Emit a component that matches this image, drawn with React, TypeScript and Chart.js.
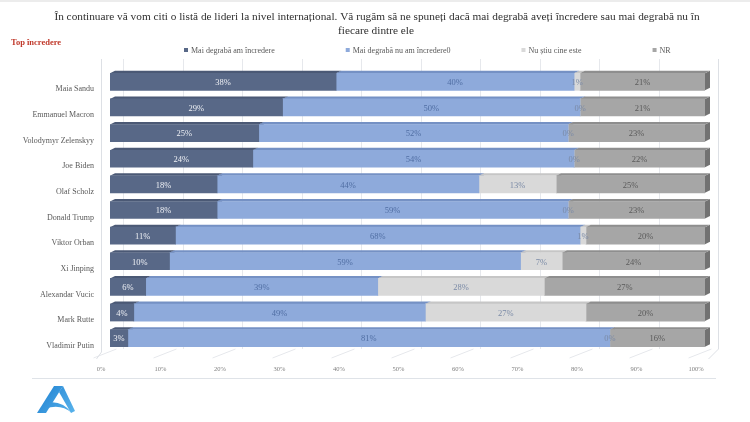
import { useEffect, useRef } from 'react';
import { Chart, registerables } from 'chart.js';

Chart.register(...registerables);

const categories = [
  'Maia Sandu',
  'Emmanuel Macron',
  'Volodymyr Zelenskyy',
  'Joe Biden',
  'Olaf Scholz',
  'Donald Trump',
  'Viktor Orban',
  'Xi Jinping',
  'Alexandar Vucic',
  'Mark Rutte',
  'Vladimir Putin',
];
const trust = [38, 29, 25, 24, 18, 18, 11, 10, 6, 4, 3];
const distrust = [40, 50, 52, 54, 44, 59, 68, 59, 39, 49, 81];
const unknown = [1, 0, 0, 0, 13, 0, 1, 7, 28, 27, 0];
const noAnswer = [21, 21, 23, 22, 25, 23, 20, 24, 27, 20, 16];
const seriesLabels = [
  'Mai degrabă am încredere',
  'Mai degrabă nu am încredere0',
  'Nu știu cine este',
  'NR',
];
const titleLines = [
  'În continuare vă vom citi o listă de lideri la nivel internațional. Vă rugăm să ne spuneți dacă mai degrabă aveți încredere sau mai degrabă nu în',
  'fiecare dintre ele',
];
const subtitle = 'Top încredere';

const FRONT = ['#586887', '#8eaadb', '#d9d9d9', '#a6a6a6'];
const TOP = ['#4b5975', '#7591c4', '#c6c6c6', '#8e8e8e'];
const SIDE = ['#44506a', '#6a84b5', '#b5b5b5', '#727272'];
const LABEL = ['#eef0f5', '#506ea3', '#7a8aa6', '#5a5a5a'];
const SERIF = '"Liberation Serif", "DejaVu Serif", serif';

const DX = 5;
const DY = 2.5;

const threeD = {
  id: 'threeD',
  beforeDatasetsDraw(chart: any) {
    const { ctx, chartArea, scales } = chart;
    const x = scales.x;
    ctx.save();
    ctx.lineWidth = 1;
    ctx.strokeStyle = '#e6e8ec';
    for (let v = 0; v <= 100; v += 10) {
      const px = Math.round(x.getPixelForValue(v)) + 0.5;
      ctx.beginPath();
      ctx.moveTo(px + 13, chartArea.top - 10);
      ctx.lineTo(px + 13, chartArea.bottom - 2);
      ctx.stroke();
      ctx.beginPath();
      ctx.moveTo(px - 17, chartArea.bottom + 7);
      ctx.lineTo(px + 6, chartArea.bottom - 2);
      ctx.stroke();
    }
    ctx.strokeStyle = '#dde0e5';
    const l = x.getPixelForValue(0) - 8.5;
    ctx.beginPath();
    ctx.moveTo(l, chartArea.top - 10);
    ctx.lineTo(l, chartArea.bottom + 1);
    ctx.lineTo(l - 5, chartArea.bottom + 8);
    ctx.stroke();
    const r = x.getPixelForValue(100) + 13.5;
    ctx.beginPath();
    ctx.moveTo(r, chartArea.top - 10);
    ctx.lineTo(r, chartArea.bottom - 2);
    ctx.lineTo(r - 10, chartArea.bottom + 8);
    ctx.stroke();

    const n = chart.data.datasets.length;
    for (let d = 0; d < n; d++) {
      const meta = chart.getDatasetMeta(d);
      meta.data.forEach((el: any) => {
        const p = el.getProps(['x', 'y', 'base', 'height'], true);
        const x0 = Math.min(p.base, p.x);
        const x1 = Math.max(p.base, p.x);
        const yt = p.y - p.height / 2;
        const yb = p.y + p.height / 2;
        ctx.fillStyle = SIDE[d];
        ctx.beginPath();
        ctx.moveTo(x1, yt);
        ctx.lineTo(x1 + DX, yt - DY);
        ctx.lineTo(x1 + DX, yb - DY);
        ctx.lineTo(x1, yb);
        ctx.closePath();
        ctx.fill();
        ctx.fillStyle = TOP[d];
        ctx.beginPath();
        ctx.moveTo(x0, yt);
        ctx.lineTo(x0 + DX, yt - DY);
        ctx.lineTo(x1 + DX, yt - DY);
        ctx.lineTo(x1, yt);
        ctx.closePath();
        ctx.fill();
      });
    }
    ctx.restore();
  },
  afterDatasetsDraw(chart: any) {
    const { ctx } = chart;
    ctx.save();
    ctx.font = `8.5px ${SERIF}`;
    ctx.textAlign = 'center';
    ctx.textBaseline = 'middle';
    chart.data.datasets.forEach((ds: any, d: number) => {
      const meta = chart.getDatasetMeta(d);
      meta.data.forEach((el: any, i: number) => {
        const p = el.getProps(['x', 'y', 'base'], true);
        ctx.fillStyle = LABEL[d];
        ctx.fillText(`${ds.data[i]}%`, (p.x + p.base) / 2, p.y + 1);
      });
    });
    ctx.restore();
  },
  afterDraw(chart: any) {
    const { ctx } = chart;
    ctx.save();
    ctx.fillStyle = '#2f2f2f';
    ctx.font = `11.3px ${SERIF}`;
    ctx.textAlign = 'center';
    ctx.textBaseline = 'middle';
    ctx.fillText(titleLines[0], 377, 17);
    ctx.fillText(titleLines[1], 376, 31);
    ctx.fillStyle = '#c0392b';
    ctx.font = `bold 8.5px ${SERIF}`;
    ctx.textAlign = 'left';
    ctx.fillText(subtitle, 11, 43);
    ctx.font = `8px ${SERIF}`;
    let lx = 184;
    chart.data.datasets.forEach((ds: any, d: number) => {
      ctx.fillStyle = FRONT[d];
      ctx.fillRect(lx, 48, 4, 4);
      ctx.fillStyle = '#595959';
      ctx.fillText(ds.label, lx + 7, 50.5);
      lx += 7 + ctx.measureText(ds.label).width + 71;
    });
    ctx.strokeStyle = '#dfe3e8';
    ctx.lineWidth = 1;
    ctx.beginPath();
    ctx.moveTo(32, 378.5);
    ctx.lineTo(716, 378.5);
    ctx.stroke();
    ctx.fillStyle = '#ececec';
    ctx.fillRect(0, 0, 750, 2);
    const g = ctx.createLinearGradient(37, 385, 75, 414);
    g.addColorStop(0, '#1d7fd0');
    g.addColorStop(1, '#5ab4ec');
    ctx.fillStyle = g;
    ctx.beginPath();
    ctx.moveTo(54, 386);
    ctx.lineTo(63, 386);
    ctx.lineTo(46, 413);
    ctx.lineTo(37, 413);
    ctx.closePath();
    ctx.fill();
    ctx.beginPath();
    ctx.moveTo(63, 386);
    ctx.lineTo(75, 411);
    ctx.lineTo(71, 413);
    ctx.lineTo(59, 392);
    ctx.closePath();
    ctx.fill();
    ctx.beginPath();
    ctx.moveTo(43, 404);
    ctx.quadraticCurveTo(60, 398, 72, 413);
    ctx.quadraticCurveTo(60, 403, 45, 409);
    ctx.closePath();
    ctx.fill();
    ctx.restore();
  },
};

export default function App() {
  const ref = useRef<HTMLCanvasElement | null>(null);
  useEffect(() => {
    if (!ref.current) return;
    const series = [trust, distrust, unknown, noAnswer];
    const chart = new Chart(ref.current, {
      type: 'bar',
      data: {
        labels: categories,
        datasets: series.map((s, i) => ({
          label: seriesLabels[i],
          data: s,
          backgroundColor: FRONT[i],
          borderWidth: 0,
          barThickness: 17,
        })),
      },
      options: {
        indexAxis: 'y',
        responsive: false,
        animation: false,
        devicePixelRatio: 1,
        layout: { padding: { left: 0, right: 45, top: 69, bottom: 0 } },
        plugins: {
          legend: { display: false },
          title: { display: false },
          tooltip: { enabled: false },
        },
        scales: {
          x: {
            stacked: true,
            min: 0,
            max: 100,
            ticks: {
              stepSize: 10,
              callback: (v: any) => `${v}%`,
              font: { family: SERIF, size: 6.5 },
              color: '#7f7f7f',
              padding: 14,
              labelOffset: -9,
            },
            grid: { display: false, drawTicks: false },
            border: { display: false },
            afterFit: (s: any) => {
              s.height = 71;
            },
          },
          y: {
            stacked: true,
            ticks: {
              font: { family: SERIF, size: 8 },
              color: '#595959',
              padding: 16,
              labelOffset: 7.5,
            },
            grid: { display: false, drawTicks: false },
            border: { display: false },
            afterFit: (s: any) => {
              s.width = 110;
            },
          },
        },
      },
      plugins: [threeD],
    });
    return () => chart.destroy();
  }, []);
  return (
    <div style={{ position: 'absolute', left: 0, top: 0, width: 750, height: 422, background: '#fff' }}>
      <canvas ref={ref} width={750} height={422} />
    </div>
  );
}
